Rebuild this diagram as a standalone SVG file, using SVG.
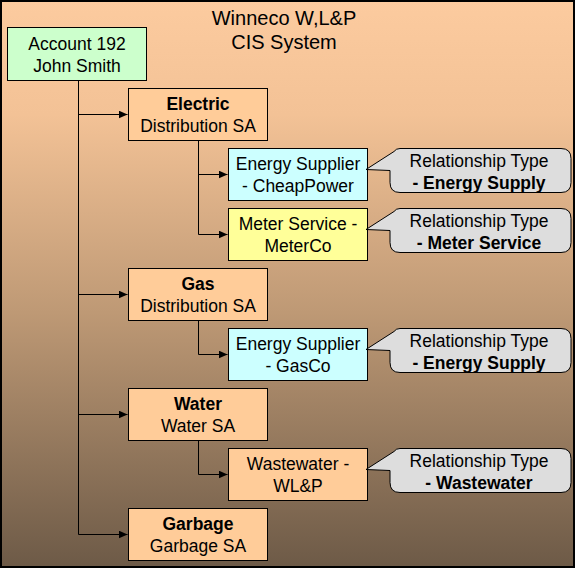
<svg xmlns="http://www.w3.org/2000/svg" width="576" height="569" viewBox="0 0 576 569">
<defs>
<linearGradient id="bg" x1="0" y1="0" x2="0" y2="1">
<stop offset="0" stop-color="#FCCB9F"/>
<stop offset="0.2" stop-color="#F3C296"/>
<stop offset="0.55" stop-color="#BE9975"/>
<stop offset="1" stop-color="#6D5A47"/>
</linearGradient>
<marker id="ah" markerWidth="9" markerHeight="8" refX="9" refY="4" orient="auto" markerUnits="userSpaceOnUse">
<path d="M0,0 L9,4 L0,8 Z" fill="#000"/>
</marker>
</defs>
<style>
text{font-family:"Liberation Sans",Arial,sans-serif;font-size:17.5px;fill:#000;text-anchor:middle}
.t{font-size:20px}
.b{font-weight:bold}
.box{stroke:#000;stroke-width:1}
.org{fill:#FFCC99}
.grn{fill:#CCFFCC}
.cyn{fill:#CCFFFF}
.yel{fill:#FFFF99}
.co{fill:#DDDDDD;stroke:#000;stroke-width:1}
.ln{fill:none;stroke:#000;stroke-width:1}
</style>
<rect x="1" y="1" width="573" height="566" fill="url(#bg)" stroke="#000" stroke-width="2"/>
<g id="title">
<text class="t" x="284" y="25">Winneco W,L&amp;P</text>
<text class="t" x="284" y="49">CIS System</text>
</g>
<g id="connectors">
<path class="ln" d="M78.5,81 V534.5"/>
<path class="ln" d="M78.5,114.5 H127.5" marker-end="url(#ah)"/>
<path class="ln" d="M78.5,294.5 H127.5" marker-end="url(#ah)"/>
<path class="ln" d="M78.5,414.5 H127.5" marker-end="url(#ah)"/>
<path class="ln" d="M78.5,534.5 H127.5" marker-end="url(#ah)"/>
<path class="ln" d="M198.5,140 V234.5"/>
<path class="ln" d="M198.5,174.5 H227.5" marker-end="url(#ah)"/>
<path class="ln" d="M198.5,234.5 H227.5" marker-end="url(#ah)"/>
<path class="ln" d="M198.5,320 V354.5 H227.5" marker-end="url(#ah)"/>
<path class="ln" d="M198.5,440 V474.5 H227.5" marker-end="url(#ah)"/>
</g>
<g id="account">
<rect class="box grn" x="7.5" y="27.5" width="139" height="53"/>
<text x="77" y="50">Account 192</text>
<text x="77" y="72">John Smith</text>
</g>
<g id="electric">
<rect class="box org" x="128.5" y="88.5" width="139" height="52"/>
<text class="b" x="198" y="110">Electric</text>
<text x="198" y="132">Distribution SA</text>
</g>
<g id="cheappower">
<rect class="box cyn" x="228.5" y="148.5" width="139" height="52"/>
<text x="298" y="170">Energy Supplier</text>
<text x="298" y="192">- CheapPower</text>
</g>
<g id="callout-energy-1">
<path class="co" d="M400,148.5 H561 Q571,148.5 571,158.5 V182.5 Q571,192.5 561,192.5 H400 Q390,192.5 390,182.5 V170.5 L366,169.5 L394,151.5 Q396,148.5 400,148.5 Z"/>
<text x="479" y="167">Relationship Type</text>
<text class="b" x="479" y="189">- Energy Supply</text>
</g>
<g id="meterco">
<rect class="box yel" x="228.5" y="208.5" width="139" height="52"/>
<text x="298" y="230">Meter Service -</text>
<text x="298" y="252">MeterCo</text>
</g>
<g id="callout-meter">
<path class="co" d="M400,208.5 H561 Q571,208.5 571,218.5 V242.5 Q571,252.5 561,252.5 H400 Q390,252.5 390,242.5 V230.5 L366,229.5 L394,211.5 Q396,208.5 400,208.5 Z"/>
<text x="479" y="227">Relationship Type</text>
<text class="b" x="479" y="249">- Meter Service</text>
</g>
<g id="gas">
<rect class="box org" x="128.5" y="268.5" width="139" height="52"/>
<text class="b" x="198" y="290">Gas</text>
<text x="198" y="312">Distribution SA</text>
</g>
<g id="gasco">
<rect class="box cyn" x="228.5" y="328.5" width="139" height="52"/>
<text x="298" y="350">Energy Supplier</text>
<text x="298" y="372">- GasCo</text>
</g>
<g id="callout-energy-2">
<path class="co" d="M400,328.5 H561 Q571,328.5 571,338.5 V362.5 Q571,372.5 561,372.5 H400 Q390,372.5 390,362.5 V350.5 L366,349.5 L394,331.5 Q396,328.5 400,328.5 Z"/>
<text x="479" y="347">Relationship Type</text>
<text class="b" x="479" y="369">- Energy Supply</text>
</g>
<g id="water">
<rect class="box org" x="128.5" y="388.5" width="139" height="52"/>
<text class="b" x="198" y="410">Water</text>
<text x="198" y="432">Water SA</text>
</g>
<g id="wastewater">
<rect class="box org" x="228.5" y="448.5" width="139" height="52"/>
<text x="298" y="470">Wastewater -</text>
<text x="298" y="492">WL&amp;P</text>
</g>
<g id="callout-wastewater">
<path class="co" d="M400,448.5 H561 Q571,448.5 571,458.5 V482.5 Q571,492.5 561,492.5 H400 Q390,492.5 390,482.5 V470.5 L366,469.5 L394,451.5 Q396,448.5 400,448.5 Z"/>
<text x="479" y="467">Relationship Type</text>
<text class="b" x="479" y="489">- Wastewater</text>
</g>
<g id="garbage">
<rect class="box org" x="128.5" y="508.5" width="139" height="52"/>
<text class="b" x="198" y="530">Garbage</text>
<text x="198" y="552">Garbage SA</text>
</g>
</svg>
